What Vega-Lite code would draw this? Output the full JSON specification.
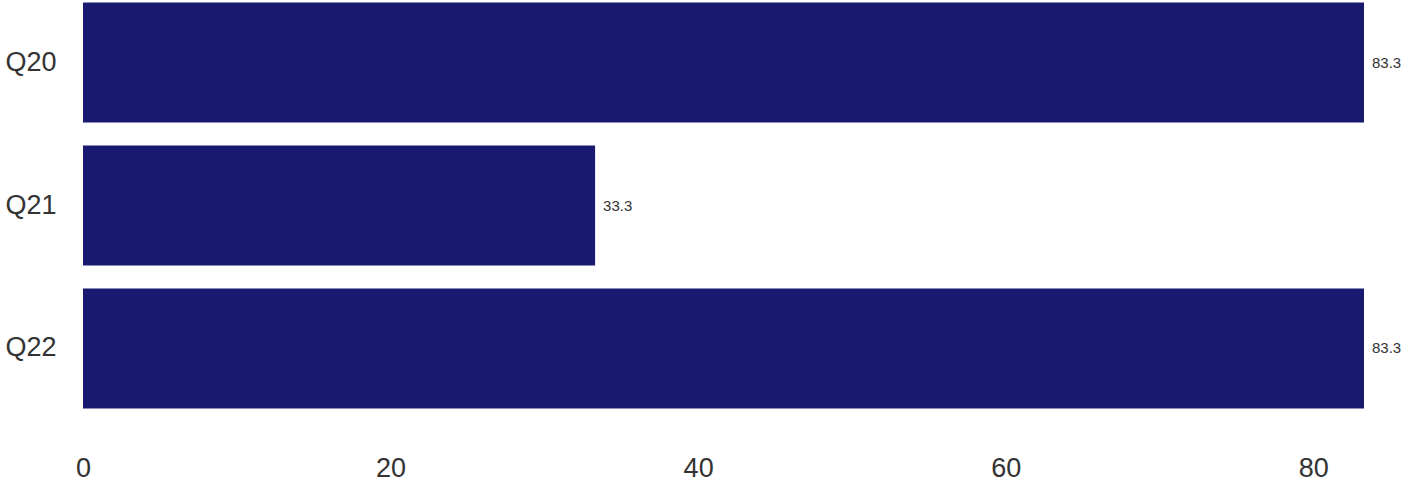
{
  "$schema": "https://vega.github.io/schema/vega-lite/v6.json",
  "width": 1281,
  "height": 411,
  "padding": {"left": 4, "top": 0, "right": 0, "bottom": 0},
  "background": "white",
  "config": {
    "view": {"stroke": null},
    "font": "Liberation Sans",
    "axis": {"labelFont": "Liberation Sans", "labelColor": "#333333", "labelFontSize": 27, "ticks": false, "domain": false, "grid": false, "title": null}
  },
  "data": {
    "values": [
      {"question": "Q20", "value": 83.3},
      {"question": "Q21", "value": 33.3},
      {"question": "Q22", "value": 83.3}
    ]
  },
  "encoding": {
    "y": {
      "field": "question",
      "type": "nominal",
      "sort": null,
      "scale": {"paddingInner": 0.16, "paddingOuter": 0.0175},
      "axis": {"labelPadding": 27}
    },
    "x": {
      "field": "value",
      "type": "quantitative",
      "scale": {"domain": [0, 83.3], "nice": false, "zero": true},
      "axis": {"values": [0, 20, 40, 60, 80], "labelPadding": 44, "labelFlush": false, "labelOverlap": false}
    }
  },
  "layer": [
    {"mark": {"type": "bar", "color": "#191970"}},
    {
      "mark": {"type": "text", "align": "left", "baseline": "middle", "dx": 8, "fontSize": 15, "color": "#333333", "font": "Liberation Sans"},
      "encoding": {"text": {"field": "value", "type": "quantitative", "format": ".1f"}}
    }
  ]
}
